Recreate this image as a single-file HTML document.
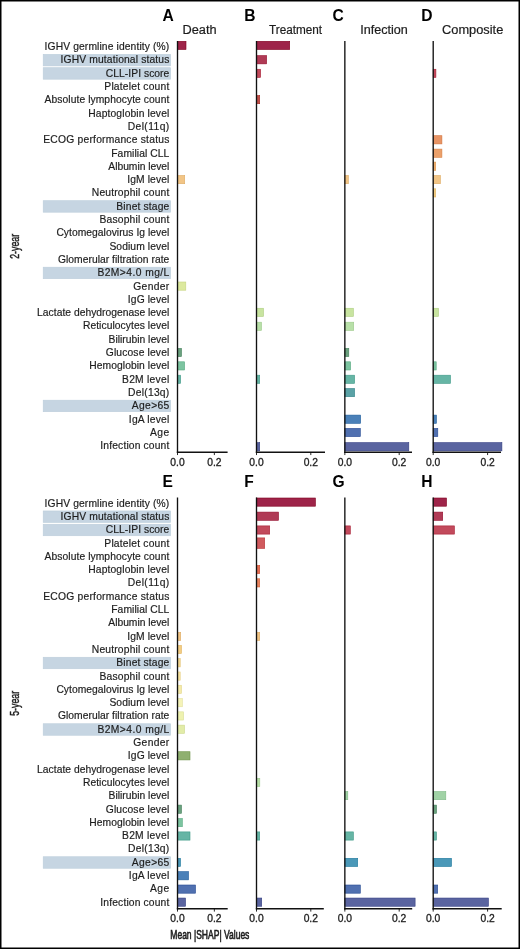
<!DOCTYPE html>
<html><head><meta charset="utf-8"><title>SHAP</title>
<style>
html,body{margin:0;padding:0;background:#fff;}
body{width:520px;height:949px;overflow:hidden;}
svg{display:block;will-change:transform;}
text{font-family:'Liberation Sans', sans-serif;fill:#1d1d1d;}
.lb{font-size:10.3px;text-anchor:end;stroke:#1d1d1d;stroke-width:0.18px;}
.tk{font-size:10.3px;text-anchor:middle;stroke:#1d1d1d;stroke-width:0.3px;}
.pl{font-size:15.6px;font-weight:bold;fill:#000;}
.tt{font-size:12px;stroke:#1d1d1d;stroke-width:0.2px;}
.yr{font-size:12.8px;stroke:#1d1d1d;stroke-width:0.45px;}
.xl{font-size:12.1px;stroke:#1d1d1d;stroke-width:0.6px;}
</style></head><body>
<svg width="520" height="949" viewBox="0 0 520 949">
<rect width="520" height="949" fill="#fff"/>
<rect x="43.2" y="54.40" width="127.39999999999999" height="11.5" fill="#c6d5e2" stroke="#bccddb" stroke-width="0.6"/>
<rect x="43.2" y="67.70" width="127.39999999999999" height="11.5" fill="#c6d5e2" stroke="#bccddb" stroke-width="0.6"/>
<rect x="43.2" y="200.70" width="127.39999999999999" height="11.5" fill="#c6d5e2" stroke="#bccddb" stroke-width="0.6"/>
<rect x="43.2" y="267.20" width="127.39999999999999" height="11.5" fill="#c6d5e2" stroke="#bccddb" stroke-width="0.6"/>
<rect x="43.2" y="400.20" width="127.39999999999999" height="11.5" fill="#c6d5e2" stroke="#bccddb" stroke-width="0.6"/>
<text x="169.3" y="50.10" class="lb" textLength="124.74" lengthAdjust="spacing">IGHV germline identity (%)</text>
<text x="169.3" y="63.40" class="lb" textLength="108.73" lengthAdjust="spacing">IGHV mutational status</text>
<text x="169.3" y="76.70" class="lb" textLength="63.47" lengthAdjust="spacing">CLL-IPI score</text>
<text x="169.3" y="90.00" class="lb" textLength="64.98" lengthAdjust="spacing">Platelet count</text>
<text x="169.3" y="103.30" class="lb" textLength="124.69" lengthAdjust="spacing">Absolute lymphocyte count</text>
<text x="169.3" y="116.60" class="lb" textLength="81.05" lengthAdjust="spacing">Haptoglobin level</text>
<text x="169.3" y="129.90" class="lb" textLength="41.61" lengthAdjust="spacing">Del(11q)</text>
<text x="169.3" y="143.20" class="lb" textLength="126.01" lengthAdjust="spacing">ECOG performance status</text>
<text x="169.3" y="156.50" class="lb" textLength="58.06" lengthAdjust="spacing">Familial CLL</text>
<text x="169.3" y="169.80" class="lb" textLength="60.95" lengthAdjust="spacing">Albumin level</text>
<text x="169.3" y="183.10" class="lb" textLength="42.04" lengthAdjust="spacing">IgM level</text>
<text x="169.3" y="196.40" class="lb" textLength="77.44" lengthAdjust="spacing">Neutrophil count</text>
<text x="169.3" y="209.70" class="lb" textLength="52.96" lengthAdjust="spacing">Binet stage</text>
<text x="169.3" y="223.00" class="lb" textLength="69.79" lengthAdjust="spacing">Basophil count</text>
<text x="169.3" y="236.30" class="lb" textLength="112.91" lengthAdjust="spacing">Cytomegalovirus Ig level</text>
<text x="169.3" y="249.60" class="lb" textLength="59.89" lengthAdjust="spacing">Sodium level</text>
<text x="169.3" y="262.90" class="lb" textLength="111.38" lengthAdjust="spacing">Glomerular filtration rate</text>
<text x="169.3" y="276.20" class="lb" textLength="71.88" lengthAdjust="spacing">B2M&gt;4.0 mg/L</text>
<text x="169.3" y="289.50" class="lb" textLength="36.09" lengthAdjust="spacing">Gender</text>
<text x="169.3" y="302.80" class="lb" textLength="41.46" lengthAdjust="spacing">IgG level</text>
<text x="169.3" y="316.10" class="lb" textLength="132.20" lengthAdjust="spacing">Lactate dehydrogenase level</text>
<text x="169.3" y="329.40" class="lb" textLength="86.41" lengthAdjust="spacing">Reticulocytes level</text>
<text x="169.3" y="342.70" class="lb" textLength="60.78" lengthAdjust="spacing">Bilirubin level</text>
<text x="169.3" y="356.00" class="lb" textLength="63.56" lengthAdjust="spacing">Glucose level</text>
<text x="169.3" y="369.30" class="lb" textLength="80.02" lengthAdjust="spacing">Hemoglobin level</text>
<text x="169.3" y="382.60" class="lb" textLength="47.29" lengthAdjust="spacing">B2M level</text>
<text x="169.3" y="395.90" class="lb" textLength="41.33" lengthAdjust="spacing">Del(13q)</text>
<text x="169.3" y="409.20" class="lb" textLength="37.50" lengthAdjust="spacing">Age&gt;65</text>
<text x="169.3" y="422.50" class="lb" textLength="40.48" lengthAdjust="spacing">IgA level</text>
<text x="169.3" y="435.80" class="lb" textLength="19.26" lengthAdjust="spacing">Age</text>
<text x="169.3" y="449.10" class="lb" textLength="68.93" lengthAdjust="spacing">Infection count</text>
<rect x="177.50" y="41.30" width="8.50" height="8.20" fill="#9e2449" stroke="#7f001e" stroke-width="0.6"/>
<rect x="177.50" y="175.50" width="7.20" height="8.20" fill="#f2c586" stroke="#deab63" stroke-width="0.6"/>
<rect x="177.50" y="282.00" width="8.30" height="8.20" fill="#dce99e" stroke="#c5d47f" stroke-width="0.6"/>
<rect x="177.50" y="348.40" width="4.00" height="8.20" fill="#6aa07e" stroke="#44815a" stroke-width="0.6"/>
<rect x="177.50" y="361.80" width="7.10" height="8.20" fill="#7cc4a0" stroke="#58aa81" stroke-width="0.6"/>
<rect x="177.50" y="375.20" width="3.10" height="8.20" fill="#66b5a5" stroke="#3f9987" stroke-width="0.6"/>
<rect x="256.50" y="41.30" width="33.20" height="8.20" fill="#9e2449" stroke="#7f001e" stroke-width="0.6"/>
<rect x="256.50" y="55.65" width="10.10" height="8.20" fill="#b03a55" stroke="#930d2c" stroke-width="0.6"/>
<rect x="256.50" y="69.25" width="4.10" height="8.20" fill="#c24a5c" stroke="#a71f34" stroke-width="0.6"/>
<rect x="256.50" y="95.50" width="3.20" height="8.20" fill="#c0504a" stroke="#a5261f" stroke-width="0.6"/>
<rect x="256.50" y="308.25" width="7.00" height="8.20" fill="#c8e4a0" stroke="#aece81" stroke-width="0.6"/>
<rect x="256.50" y="322.20" width="5.00" height="8.20" fill="#b8e0a8" stroke="#9cc98a" stroke-width="0.6"/>
<rect x="256.50" y="375.20" width="3.20" height="8.20" fill="#66b5a5" stroke="#3f9987" stroke-width="0.6"/>
<rect x="256.50" y="442.65" width="3.20" height="8.20" fill="#5a64a0" stroke="#323d81" stroke-width="0.6"/>
<rect x="344.85" y="175.50" width="3.45" height="8.20" fill="#f2c586" stroke="#deab63" stroke-width="0.6"/>
<rect x="344.85" y="308.25" width="8.55" height="8.20" fill="#c8e4a0" stroke="#aece81" stroke-width="0.6"/>
<rect x="344.85" y="322.20" width="8.85" height="8.20" fill="#b8e0a8" stroke="#9cc98a" stroke-width="0.6"/>
<rect x="344.85" y="348.40" width="3.95" height="8.20" fill="#6aa07e" stroke="#44815a" stroke-width="0.6"/>
<rect x="344.85" y="361.80" width="5.75" height="8.20" fill="#7cc4a0" stroke="#58aa81" stroke-width="0.6"/>
<rect x="344.85" y="375.20" width="9.75" height="8.20" fill="#66b5a5" stroke="#3f9987" stroke-width="0.6"/>
<rect x="344.85" y="388.50" width="9.75" height="8.20" fill="#5aa2a6" stroke="#328388" stroke-width="0.6"/>
<rect x="344.85" y="415.10" width="15.75" height="8.20" fill="#4a80b8" stroke="#1f5d9c" stroke-width="0.6"/>
<rect x="344.85" y="428.40" width="15.45" height="8.20" fill="#5070b0" stroke="#264a93" stroke-width="0.6"/>
<rect x="344.85" y="442.65" width="63.95" height="8.20" fill="#5a64a0" stroke="#323d81" stroke-width="0.6"/>
<rect x="433.20" y="69.25" width="2.70" height="8.20" fill="#c24a5c" stroke="#a71f34" stroke-width="0.6"/>
<rect x="433.20" y="135.70" width="8.70" height="8.20" fill="#e89465" stroke="#d3733e" stroke-width="0.6"/>
<rect x="433.20" y="149.10" width="8.70" height="8.20" fill="#eba06a" stroke="#d68144" stroke-width="0.6"/>
<rect x="433.20" y="162.10" width="2.50" height="8.20" fill="#f0b070" stroke="#dc934a" stroke-width="0.6"/>
<rect x="433.20" y="175.50" width="7.20" height="8.20" fill="#f2c586" stroke="#deab63" stroke-width="0.6"/>
<rect x="433.20" y="188.80" width="2.50" height="8.20" fill="#f3cc82" stroke="#dfb35f" stroke-width="0.6"/>
<rect x="433.20" y="308.25" width="5.30" height="8.20" fill="#c8e4a0" stroke="#aece81" stroke-width="0.6"/>
<rect x="433.20" y="361.80" width="3.00" height="8.20" fill="#7cc4a0" stroke="#58aa81" stroke-width="0.6"/>
<rect x="433.20" y="375.20" width="17.30" height="8.20" fill="#66b5a5" stroke="#3f9987" stroke-width="0.6"/>
<rect x="433.20" y="415.10" width="3.20" height="8.20" fill="#4a80b8" stroke="#1f5d9c" stroke-width="0.6"/>
<rect x="433.20" y="428.40" width="4.60" height="8.20" fill="#5070b0" stroke="#264a93" stroke-width="0.6"/>
<rect x="433.20" y="442.65" width="68.70" height="8.20" fill="#5a64a0" stroke="#323d81" stroke-width="0.6"/>
<line x1="177.5" y1="41.00" x2="177.5" y2="452.95" stroke="#111" stroke-width="1.35"/>
<line x1="176.85" y1="452.25" x2="227.6" y2="452.25" stroke="#111" stroke-width="1.45"/>
<line x1="177.50" y1="452.25" x2="177.50" y2="455.05" stroke="#111" stroke-width="0.9"/>
<line x1="214.35" y1="452.25" x2="214.35" y2="455.05" stroke="#111" stroke-width="0.9"/>
<text x="177.50" y="465.55" class="tk">0.0</text>
<text x="214.35" y="465.55" class="tk">0.2</text>
<line x1="256.5" y1="41.00" x2="256.5" y2="452.95" stroke="#111" stroke-width="1.35"/>
<line x1="255.85" y1="452.25" x2="325.0" y2="452.25" stroke="#111" stroke-width="1.45"/>
<line x1="256.50" y1="452.25" x2="256.50" y2="455.05" stroke="#111" stroke-width="0.9"/>
<line x1="310.80" y1="452.25" x2="310.80" y2="455.05" stroke="#111" stroke-width="0.9"/>
<text x="256.50" y="465.55" class="tk">0.0</text>
<text x="310.80" y="465.55" class="tk">0.2</text>
<line x1="344.85" y1="41.00" x2="344.85" y2="452.95" stroke="#111" stroke-width="1.35"/>
<line x1="344.20" y1="452.25" x2="412.0" y2="452.25" stroke="#111" stroke-width="1.45"/>
<line x1="344.85" y1="452.25" x2="344.85" y2="455.05" stroke="#111" stroke-width="0.9"/>
<line x1="399.20" y1="452.25" x2="399.20" y2="455.05" stroke="#111" stroke-width="0.9"/>
<text x="344.85" y="465.55" class="tk">0.0</text>
<text x="399.20" y="465.55" class="tk">0.2</text>
<line x1="433.2" y1="41.00" x2="433.2" y2="452.95" stroke="#111" stroke-width="1.35"/>
<line x1="432.55" y1="452.25" x2="501.0" y2="452.25" stroke="#111" stroke-width="1.45"/>
<line x1="433.20" y1="452.25" x2="433.20" y2="455.05" stroke="#111" stroke-width="0.9"/>
<line x1="487.60" y1="452.25" x2="487.60" y2="455.05" stroke="#111" stroke-width="0.9"/>
<text x="433.20" y="465.55" class="tk">0.0</text>
<text x="487.60" y="465.55" class="tk">0.2</text>
<rect x="43.2" y="510.95" width="127.39999999999999" height="11.5" fill="#c6d5e2" stroke="#bccddb" stroke-width="0.6"/>
<rect x="43.2" y="524.25" width="127.39999999999999" height="11.5" fill="#c6d5e2" stroke="#bccddb" stroke-width="0.6"/>
<rect x="43.2" y="657.25" width="127.39999999999999" height="11.5" fill="#c6d5e2" stroke="#bccddb" stroke-width="0.6"/>
<rect x="43.2" y="723.75" width="127.39999999999999" height="11.5" fill="#c6d5e2" stroke="#bccddb" stroke-width="0.6"/>
<rect x="43.2" y="856.75" width="127.39999999999999" height="11.5" fill="#c6d5e2" stroke="#bccddb" stroke-width="0.6"/>
<text x="169.3" y="506.65" class="lb" textLength="124.74" lengthAdjust="spacing">IGHV germline identity (%)</text>
<text x="169.3" y="519.95" class="lb" textLength="108.73" lengthAdjust="spacing">IGHV mutational status</text>
<text x="169.3" y="533.25" class="lb" textLength="63.47" lengthAdjust="spacing">CLL-IPI score</text>
<text x="169.3" y="546.55" class="lb" textLength="64.98" lengthAdjust="spacing">Platelet count</text>
<text x="169.3" y="559.85" class="lb" textLength="124.69" lengthAdjust="spacing">Absolute lymphocyte count</text>
<text x="169.3" y="573.15" class="lb" textLength="81.05" lengthAdjust="spacing">Haptoglobin level</text>
<text x="169.3" y="586.45" class="lb" textLength="41.61" lengthAdjust="spacing">Del(11q)</text>
<text x="169.3" y="599.75" class="lb" textLength="126.01" lengthAdjust="spacing">ECOG performance status</text>
<text x="169.3" y="613.05" class="lb" textLength="58.06" lengthAdjust="spacing">Familial CLL</text>
<text x="169.3" y="626.35" class="lb" textLength="60.95" lengthAdjust="spacing">Albumin level</text>
<text x="169.3" y="639.65" class="lb" textLength="42.04" lengthAdjust="spacing">IgM level</text>
<text x="169.3" y="652.95" class="lb" textLength="77.44" lengthAdjust="spacing">Neutrophil count</text>
<text x="169.3" y="666.25" class="lb" textLength="52.96" lengthAdjust="spacing">Binet stage</text>
<text x="169.3" y="679.55" class="lb" textLength="69.79" lengthAdjust="spacing">Basophil count</text>
<text x="169.3" y="692.85" class="lb" textLength="112.91" lengthAdjust="spacing">Cytomegalovirus Ig level</text>
<text x="169.3" y="706.15" class="lb" textLength="59.89" lengthAdjust="spacing">Sodium level</text>
<text x="169.3" y="719.45" class="lb" textLength="111.38" lengthAdjust="spacing">Glomerular filtration rate</text>
<text x="169.3" y="732.75" class="lb" textLength="71.88" lengthAdjust="spacing">B2M&gt;4.0 mg/L</text>
<text x="169.3" y="746.05" class="lb" textLength="36.09" lengthAdjust="spacing">Gender</text>
<text x="169.3" y="759.35" class="lb" textLength="41.46" lengthAdjust="spacing">IgG level</text>
<text x="169.3" y="772.65" class="lb" textLength="132.20" lengthAdjust="spacing">Lactate dehydrogenase level</text>
<text x="169.3" y="785.95" class="lb" textLength="86.41" lengthAdjust="spacing">Reticulocytes level</text>
<text x="169.3" y="799.25" class="lb" textLength="60.78" lengthAdjust="spacing">Bilirubin level</text>
<text x="169.3" y="812.55" class="lb" textLength="63.56" lengthAdjust="spacing">Glucose level</text>
<text x="169.3" y="825.85" class="lb" textLength="80.02" lengthAdjust="spacing">Hemoglobin level</text>
<text x="169.3" y="839.15" class="lb" textLength="47.29" lengthAdjust="spacing">B2M level</text>
<text x="169.3" y="852.45" class="lb" textLength="41.33" lengthAdjust="spacing">Del(13q)</text>
<text x="169.3" y="865.75" class="lb" textLength="37.50" lengthAdjust="spacing">Age&gt;65</text>
<text x="169.3" y="879.05" class="lb" textLength="40.48" lengthAdjust="spacing">IgA level</text>
<text x="169.3" y="892.35" class="lb" textLength="19.26" lengthAdjust="spacing">Age</text>
<text x="169.3" y="905.65" class="lb" textLength="68.93" lengthAdjust="spacing">Infection count</text>
<rect x="177.50" y="632.30" width="3.20" height="8.20" fill="#f2c586" stroke="#deab63" stroke-width="0.6"/>
<rect x="177.50" y="645.40" width="4.00" height="8.20" fill="#f3cc82" stroke="#dfb35f" stroke-width="0.6"/>
<rect x="177.50" y="658.69" width="2.70" height="8.20" fill="#f5d890" stroke="#e1c06f" stroke-width="0.6"/>
<rect x="177.50" y="671.98" width="2.70" height="8.20" fill="#f8e4a0" stroke="#e5ce81" stroke-width="0.6"/>
<rect x="177.50" y="685.27" width="4.00" height="8.20" fill="#f5eaa8" stroke="#e1d58a" stroke-width="0.6"/>
<rect x="177.50" y="698.56" width="4.80" height="8.20" fill="#f5f3b8" stroke="#e1df9c" stroke-width="0.6"/>
<rect x="177.50" y="711.85" width="6.00" height="8.20" fill="#eef2b0" stroke="#d9de93" stroke-width="0.6"/>
<rect x="177.50" y="725.14" width="7.00" height="8.20" fill="#e2eca8" stroke="#ccd78a" stroke-width="0.6"/>
<rect x="177.50" y="751.72" width="12.50" height="8.20" fill="#8fb070" stroke="#6e934a" stroke-width="0.6"/>
<rect x="177.50" y="805.10" width="4.00" height="8.20" fill="#6aa07e" stroke="#44815a" stroke-width="0.6"/>
<rect x="177.50" y="818.50" width="4.80" height="8.20" fill="#7cc4a0" stroke="#58aa81" stroke-width="0.6"/>
<rect x="177.50" y="831.90" width="12.50" height="8.20" fill="#66b5a5" stroke="#3f9987" stroke-width="0.6"/>
<rect x="177.50" y="858.30" width="3.00" height="8.20" fill="#4a98b8" stroke="#1f789c" stroke-width="0.6"/>
<rect x="177.50" y="871.65" width="11.00" height="8.20" fill="#4a80b8" stroke="#1f5d9c" stroke-width="0.6"/>
<rect x="177.50" y="885.00" width="18.00" height="8.20" fill="#5070b0" stroke="#264a93" stroke-width="0.6"/>
<rect x="177.50" y="898.05" width="8.00" height="8.20" fill="#5a64a0" stroke="#323d81" stroke-width="0.6"/>
<rect x="256.50" y="498.00" width="58.90" height="8.20" fill="#9e2449" stroke="#7f001e" stroke-width="0.6"/>
<rect x="256.50" y="512.10" width="22.00" height="8.20" fill="#b03a55" stroke="#930d2c" stroke-width="0.6"/>
<rect x="256.50" y="525.90" width="13.20" height="8.20" fill="#c24a5c" stroke="#a71f34" stroke-width="0.6"/>
<rect x="256.50" y="537.90" width="8.20" height="10.50" fill="#d05a5e" stroke="#b73236" stroke-width="0.6"/>
<rect x="256.50" y="565.40" width="3.20" height="8.20" fill="#e57055" stroke="#cf4a2c" stroke-width="0.6"/>
<rect x="256.50" y="578.78" width="3.20" height="8.20" fill="#ea8560" stroke="#d56238" stroke-width="0.6"/>
<rect x="256.50" y="632.30" width="3.20" height="8.20" fill="#f2c586" stroke="#deab63" stroke-width="0.6"/>
<rect x="256.50" y="778.30" width="3.30" height="8.20" fill="#b8e0a8" stroke="#9cc98a" stroke-width="0.6"/>
<rect x="256.50" y="831.90" width="3.20" height="8.20" fill="#66b5a5" stroke="#3f9987" stroke-width="0.6"/>
<rect x="256.50" y="898.05" width="5.20" height="8.20" fill="#5a64a0" stroke="#323d81" stroke-width="0.6"/>
<rect x="344.85" y="525.90" width="5.45" height="8.20" fill="#c24a5c" stroke="#a71f34" stroke-width="0.6"/>
<rect x="344.85" y="791.50" width="2.95" height="8.20" fill="#a0d2a5" stroke="#81ba87" stroke-width="0.6"/>
<rect x="344.85" y="831.90" width="8.55" height="8.20" fill="#66b5a5" stroke="#3f9987" stroke-width="0.6"/>
<rect x="344.85" y="858.30" width="12.85" height="8.20" fill="#4a98b8" stroke="#1f789c" stroke-width="0.6"/>
<rect x="344.85" y="885.00" width="15.45" height="8.20" fill="#5070b0" stroke="#264a93" stroke-width="0.6"/>
<rect x="344.85" y="898.05" width="70.25" height="8.20" fill="#5a64a0" stroke="#323d81" stroke-width="0.6"/>
<rect x="433.20" y="498.00" width="13.30" height="8.20" fill="#9e2449" stroke="#7f001e" stroke-width="0.6"/>
<rect x="433.20" y="512.10" width="9.50" height="8.20" fill="#b03a55" stroke="#930d2c" stroke-width="0.6"/>
<rect x="433.20" y="525.90" width="21.20" height="8.20" fill="#c24a5c" stroke="#a71f34" stroke-width="0.6"/>
<rect x="433.20" y="791.50" width="12.60" height="8.20" fill="#a0d2a5" stroke="#81ba87" stroke-width="0.6"/>
<rect x="433.20" y="805.10" width="3.30" height="8.20" fill="#6aa07e" stroke="#44815a" stroke-width="0.6"/>
<rect x="433.20" y="831.90" width="3.30" height="8.20" fill="#66b5a5" stroke="#3f9987" stroke-width="0.6"/>
<rect x="433.20" y="858.30" width="18.30" height="8.20" fill="#4a98b8" stroke="#1f789c" stroke-width="0.6"/>
<rect x="433.20" y="885.00" width="4.50" height="8.20" fill="#5070b0" stroke="#264a93" stroke-width="0.6"/>
<rect x="433.20" y="898.05" width="55.20" height="8.20" fill="#5a64a0" stroke="#323d81" stroke-width="0.6"/>
<line x1="177.5" y1="497.55" x2="177.5" y2="909.50" stroke="#111" stroke-width="1.35"/>
<line x1="176.85" y1="908.80" x2="227.7" y2="908.80" stroke="#111" stroke-width="1.45"/>
<line x1="177.50" y1="908.80" x2="177.50" y2="911.60" stroke="#111" stroke-width="0.9"/>
<line x1="214.35" y1="908.80" x2="214.35" y2="911.60" stroke="#111" stroke-width="0.9"/>
<text x="177.50" y="922.10" class="tk">0.0</text>
<text x="214.35" y="922.10" class="tk">0.2</text>
<line x1="256.5" y1="497.55" x2="256.5" y2="909.50" stroke="#111" stroke-width="1.35"/>
<line x1="255.85" y1="908.80" x2="323.8" y2="908.80" stroke="#111" stroke-width="1.45"/>
<line x1="256.50" y1="908.80" x2="256.50" y2="911.60" stroke="#111" stroke-width="0.9"/>
<line x1="310.80" y1="908.80" x2="310.80" y2="911.60" stroke="#111" stroke-width="0.9"/>
<text x="256.50" y="922.10" class="tk">0.0</text>
<text x="310.80" y="922.10" class="tk">0.2</text>
<line x1="344.85" y1="497.55" x2="344.85" y2="909.50" stroke="#111" stroke-width="1.35"/>
<line x1="344.20" y1="908.80" x2="412.2" y2="908.80" stroke="#111" stroke-width="1.45"/>
<line x1="344.85" y1="908.80" x2="344.85" y2="911.60" stroke="#111" stroke-width="0.9"/>
<line x1="399.20" y1="908.80" x2="399.20" y2="911.60" stroke="#111" stroke-width="0.9"/>
<text x="344.85" y="922.10" class="tk">0.0</text>
<text x="399.20" y="922.10" class="tk">0.2</text>
<line x1="433.2" y1="497.55" x2="433.2" y2="909.50" stroke="#111" stroke-width="1.35"/>
<line x1="432.55" y1="908.80" x2="501.7" y2="908.80" stroke="#111" stroke-width="1.45"/>
<line x1="433.20" y1="908.80" x2="433.20" y2="911.60" stroke="#111" stroke-width="0.9"/>
<line x1="487.60" y1="908.80" x2="487.60" y2="911.60" stroke="#111" stroke-width="0.9"/>
<text x="433.20" y="922.10" class="tk">0.0</text>
<text x="487.60" y="922.10" class="tk">0.2</text>
<text x="162.6" y="20.6" class="pl">A</text>
<text x="162.6" y="486.8" class="pl">E</text>
<text x="244.3" y="20.6" class="pl">B</text>
<text x="244.3" y="486.8" class="pl">F</text>
<text x="332.4" y="20.6" class="pl">C</text>
<text x="332.4" y="486.8" class="pl">G</text>
<text x="421.3" y="20.6" class="pl">D</text>
<text x="421.3" y="486.8" class="pl">H</text>
<text x="182.52" y="34.2" class="tt" textLength="34.05" lengthAdjust="spacingAndGlyphs">Death</text>
<text x="269.01" y="34.2" class="tt" textLength="53.13" lengthAdjust="spacingAndGlyphs">Treatment</text>
<text x="360.25" y="34.2" class="tt" textLength="47.63" lengthAdjust="spacingAndGlyphs">Infection</text>
<text x="442.03" y="34.2" class="tt" textLength="61.25" lengthAdjust="spacingAndGlyphs">Composite</text>
<text transform="translate(18.8,258.8) rotate(-90) scale(0.69,1)" class="yr">2-year</text>
<text transform="translate(18.8,715.8) rotate(-90) scale(0.69,1)" class="yr">5-year</text>
<text transform="translate(170.3,938.6) scale(0.705,1)" class="xl">Mean |SHAP| Values</text>
<rect x="0.75" y="0.75" width="518.5" height="947.5" fill="none" stroke="#000" stroke-width="1.5"/>
</svg>
</body></html>
